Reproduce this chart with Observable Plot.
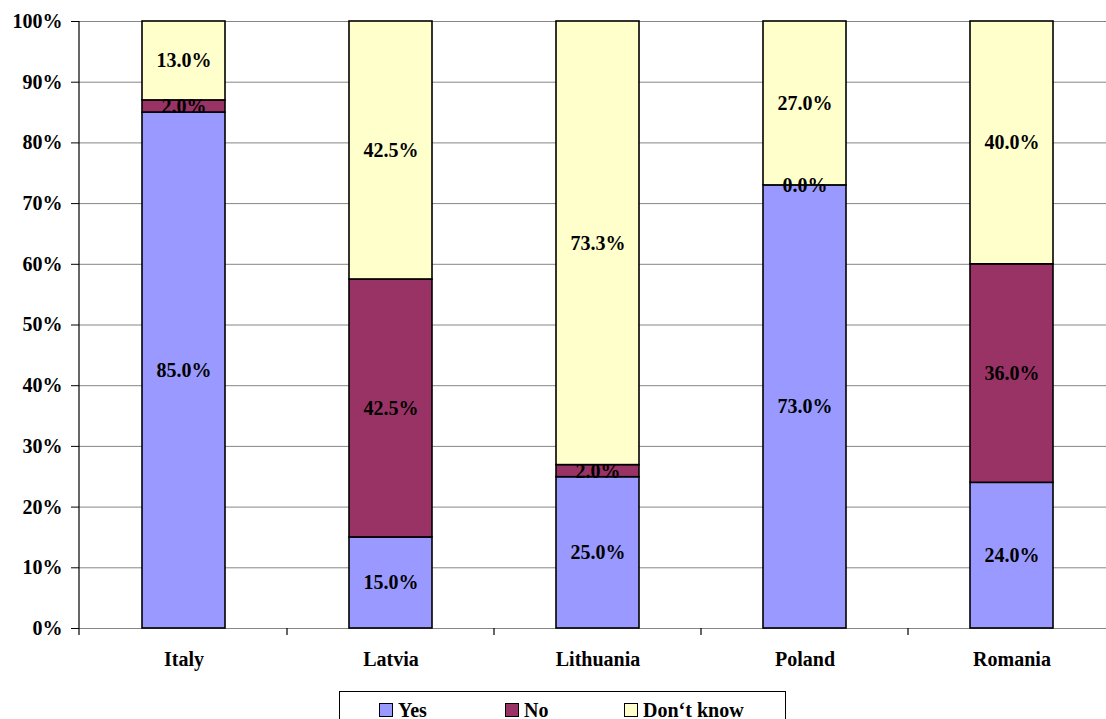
<!DOCTYPE html>
<html><head><meta charset="utf-8">
<script src="https://cdn.jsdelivr.net/npm/d3@7"></script>
<script src="https://cdn.jsdelivr.net/npm/@observablehq/plot@0.6"></script>
<style>
html,body{margin:0;padding:0;overflow:hidden;background:#fff;width:1106px;height:719px;}
#chart{position:absolute;left:0;top:0;width:1116px;}
#chart svg{max-width:none !important;}
#legend{position:absolute;left:339px;top:691px;width:447px;height:40px;border:1px solid #000;box-sizing:border-box;font:bold 20px "Liberation Serif","Times New Roman",serif;color:#000;}
.item{position:absolute;top:8px;display:flex;align-items:center;line-height:20px;}
.sw{width:12px;height:12px;border:1px solid #000;margin-right:5px;}
</style></head><body>
<div id="chart"></div><div id="legend"></div>
<script>
const countries = ["Italy", "Latvia", "Lithuania", "Poland", "Romania"];
const responses = ["Yes", "No", "Don‘t know"];
const yesValues = [85.0, 15.0, 25.0, 73.0, 24.0];
const noValues = [2.0, 42.5, 2.0, 0.0, 36.0];
const dontKnowValues = [13.0, 42.5, 73.3, 27.0, 40.0];
const colors = ["#9999ff", "#993366", "#ffffcc"];
const yTicks = [0, 0.1, 0.2, 0.3, 0.4, 0.5, 0.6, 0.7, 0.8, 0.9, 1.0];

const seriesValues = [yesValues, noValues, dontKnowValues];
const data = [];
countries.forEach((c, i) => {
  responses.forEach((r, j) => data.push({country: c, response: r, value: seriesValues[j][i]}));
});

const font = '"Liberation Serif","Times New Roman",serif';

const chart = Plot.plot({
  width: 1116,
  height: 690,
  marginLeft: 79,
  marginRight: 0,
  marginTop: 21,
  marginBottom: 62,
  style: {fontFamily: font, fontSize: "20px", fontWeight: "bold", background: "#fff", color: "#000", overflow: "visible", maxWidth: "none"},
  x: {domain: countries, paddingInner: 0.6, paddingOuter: 0.3, label: null},
  y: {domain: [0, 1], label: null},
  color: {domain: responses, range: colors},
  marks: [
    Plot.ruleY(yTicks, {y: d => d, stroke: "#868686", strokeWidth: 1}),
    Plot.barY(data, Plot.stackY({offset: "normalize"}, {
      x: "country", y: "value", z: "response", fill: "response",
      stroke: "#000", strokeWidth: 1.6
    })),
    Plot.text(data, Plot.stackY({offset: "normalize"}, {
      x: "country", y: "value", z: "response",
      text: d => d.value.toFixed(1) + "%",
      fill: "#000", fontSize: 20, fontWeight: "bold", fontFamily: font
    })),
    Plot.axisY({ticks: yTicks, tickFormat: d => Math.round(d * 100) + "%", tickSize: 8, tickPadding: 9, fontSize: 20, fontWeight: "bold", label: null, stroke: "#000"}),
    Plot.axisX({tickSize: 0, tickPadding: 23, fontSize: 20, fontWeight: "bold", label: null})
  ]
});
chart.style.maxWidth = "none";
document.getElementById("chart").appendChild(chart);

// axis line and category separator ticks, positioned from the library's scales
const xs = chart.scale("x");
const ys = chart.scale("y");
const y0 = ys.apply(0), y1 = ys.apply(1);
const svg = d3.select(chart);
const left = xs.range[0];
svg.append("line").attr("x1", left).attr("x2", left).attr("y1", y1).attr("y2", y0 + 7)
  .attr("stroke", "#000").attr("stroke-width", 1.2);
const gap = xs.step * xs.paddingInner / 2;
countries.slice(1).forEach(c => {
  const bx = Math.round(xs.apply(c) - gap);
  svg.append("line").attr("x1", bx).attr("x2", bx).attr("y1", y0).attr("y2", y0 + 7)
    .attr("stroke", "#000").attr("stroke-width", 1.2);
});

// legend
const legend = document.getElementById("legend");
const offsets = [39, 165, 284];
responses.forEach((r, i) => {
  const item = document.createElement("div");
  item.className = "item";
  item.style.left = offsets[i] + "px";
  const sw = document.createElement("div");
  sw.className = "sw";
  sw.style.background = colors[i];
  const t = document.createElement("span");
  t.textContent = r;
  item.appendChild(sw); item.appendChild(t);
  legend.appendChild(item);
});
</script>
</body></html>
